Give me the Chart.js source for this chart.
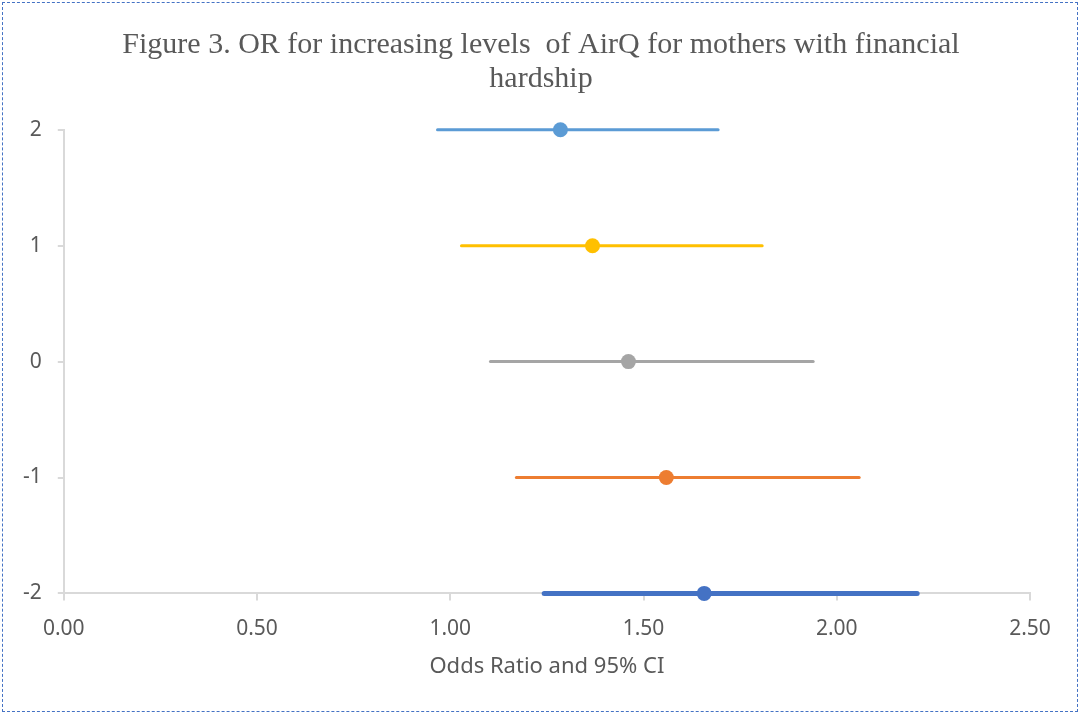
<!DOCTYPE html>
<html>
<head>
<meta charset="utf-8">
<script src="https://cdn.jsdelivr.net/npm/chart.js@4"></script>
<style>
  html, body { margin: 0; padding: 0; background: #fff; }
  #frame {
    position: absolute; left: 2px; top: 2px;
    width: 1076px; height: 710px;
    border: 1px dashed #4472c4;
    box-sizing: border-box;
  }
  #wrap { position: absolute; left: 0; top: 0; width: 1082px; height: 717px; }
</style>
</head>
<body>
<div id="frame"></div>
<div id="wrap"><canvas id="orChart" width="1082" height="717"></canvas></div>
<script>
// level of AirQ (y axis) and odds ratios with 95% CI
var levels = [2, 1, 0, -1, -2];
var oddsRatio = [1.285, 1.368, 1.461, 1.559, 1.657];
var ciLow = [0.967, 1.029, 1.104, 1.171, 1.243];
var ciHigh = [1.693, 1.807, 1.939, 2.058, 2.208];
var xTicks = [0, 0.5, 1, 1.5, 2, 2.5];

var colors = ['#5b9bd5', '#ffc000', '#a5a5a5', '#ed7d31', '#4472c4'];
var widths = [3, 3, 3, 3, 5];

var datasets = [];
for (var i = 0; i < levels.length; i++) {
  datasets.push({
    label: 'Level ' + levels[i],
    data: [
      {x: ciLow[i], y: levels[i]},
      {x: oddsRatio[i], y: levels[i]},
      {x: ciHigh[i], y: levels[i]}
    ],
    borderColor: colors[i],
    backgroundColor: colors[i],
    borderWidth: widths[i],
    borderCapStyle: 'round',
    pointRadius: [0, 7.5, 0],
    pointBorderWidth: 0,
    showLine: true,
    clip: false
  });
}

// center the title on the whole canvas, not just the padded box
var centerTitle = {
  id: 'centerTitle',
  afterLayout: function (chart) {
    if (chart.titleBlock) {
      chart.titleBlock.left = 0;
      chart.titleBlock.right = chart.width;
    }
  }
};

var ctx = document.getElementById('orChart').getContext('2d');
new Chart(ctx, {
  type: 'scatter',
  data: { datasets: datasets },
  plugins: [centerTitle],
  options: {
    responsive: false,
    animation: false,
    layout: { padding: { left: 7, right: 52, top: 24, bottom: 33 } },
    plugins: {
      legend: { display: false },
      tooltip: { enabled: false },
      title: {
        display: true,
        text: ['Figure 3. OR for increasing levels  of AirQ for mothers with financial', 'hardship'],
        color: '#595959',
        font: { family: 'Liberation Serif', size: 30, weight: 'normal', lineHeight: 1.13 },
        padding: { top: 4, bottom: 34 }
      }
    },
    scales: {
      x: {
        type: 'linear',
        min: 0,
        max: 2.5,
        afterBuildTicks: function (axis) {
          axis.ticks = xTicks.map(function (v) { return {value: v}; });
        },
        ticks: {
          color: '#595959',
          font: { family: 'Noto Sans', size: 21 },
          padding: 16,
          callback: function (v) { return Number(v).toFixed(2); }
        },
        grid: { drawOnChartArea: false, color: '#d9d9d9', tickLength: 7, lineWidth: 2 },
        border: { color: '#d9d9d9', width: 2 },
        title: {
          display: true,
          text: 'Odds Ratio and 95% CI',
          color: '#595959',
          font: { family: 'Noto Sans', size: 22 },
          padding: { top: -4 }
        }
      },
      y: {
        type: 'linear',
        min: -2,
        max: 2,
        ticks: {
          stepSize: 1,
          color: '#595959',
          font: { family: 'Noto Sans', size: 21 },
          padding: 16
        },
        grid: { drawOnChartArea: false, color: '#d9d9d9', tickLength: 6, lineWidth: 2 },
        border: { color: '#d9d9d9', width: 2 }
      }
    }
  }
});
</script>
</body>
</html>
